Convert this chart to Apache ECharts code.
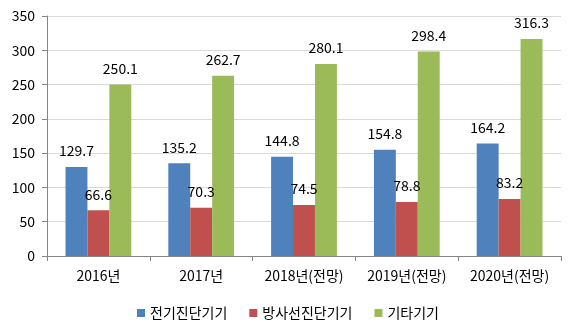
<!DOCTYPE html>
<html>
<head>
<meta charset="utf-8">
<script src="https://cdn.jsdelivr.net/npm/echarts@6/dist/echarts.min.js"></script>
<style>
html,body{margin:0;padding:0;background:#fff;}
#chart{width:576px;height:336px;}
</style>
</head>
<body>
<div id="chart"></div>
<script>
// 연도별 의료기기 분야 전망
const categories = ['2016년', '2017년', '2018년(전망)', '2019년(전망)', '2020년(전망)'];
const seriesNames = ['전기진단기기', '방사선진단기기', '기타기기'];
const electric = [129.7, 135.2, 144.8, 154.8, 164.2];
const radiation = [66.6, 70.3, 74.5, 78.8, 83.2];
const others = [250.1, 262.7, 280.1, 298.4, 316.3];
const colors = ['#4F81BD', '#C0504D', '#9BBB59'];

const font = '"Noto Sans CJK KR", "Noto Sans", sans-serif';
const chart = echarts.init(document.getElementById('chart'));

function bar(name, data, color) {
  return {
    name: name,
    type: 'bar',
    data: data,
    barGap: '0%',
    barCategoryGap: '36%',
    itemStyle: { color: color },
    label: {
      show: true,
      position: 'top',
      distance: 9,
      color: '#000',
      fontFamily: font,
      fontSize: 14,
      formatter: p => p.value.toFixed(1)
    }
  };
}

chart.setOption({
  animation: false,
  textStyle: { fontFamily: font },
  color: colors,
  grid: { left: 47, right: 15, top: 16, bottom: 80, containLabel: false },
  legend: {
    bottom: 11,
    left: 'center',
    itemWidth: 8,
    itemHeight: 8,
    itemGap: 22,
    icon: 'rect',
    textStyle: { fontFamily: font, fontSize: 14, color: '#000' },
    data: seriesNames
  },
  xAxis: {
    type: 'category',
    data: categories,
    axisLine: { lineStyle: { color: '#868686' } },
    axisTick: { show: true, length: 5, lineStyle: { color: '#868686' } },
    axisLabel: { color: '#000', fontSize: 14, fontFamily: font, margin: 13, interval: 0, hideOverlap: false }
  },
  yAxis: {
    type: 'value',
    min: 0,
    max: 350,
    interval: 50,
    axisLine: { show: true, lineStyle: { color: '#868686' } },
    axisTick: { show: true, length: 5, lineStyle: { color: '#868686' } },
    axisLabel: { color: '#000', fontSize: 14, fontFamily: font, margin: 12 },
    splitLine: { lineStyle: { color: '#D9D9D9' } }
  },
  series: [
    bar(seriesNames[0], electric, colors[0]),
    bar(seriesNames[1], radiation, colors[1]),
    bar(seriesNames[2], others, colors[2])
  ]
});
</script>
</body>
</html>
